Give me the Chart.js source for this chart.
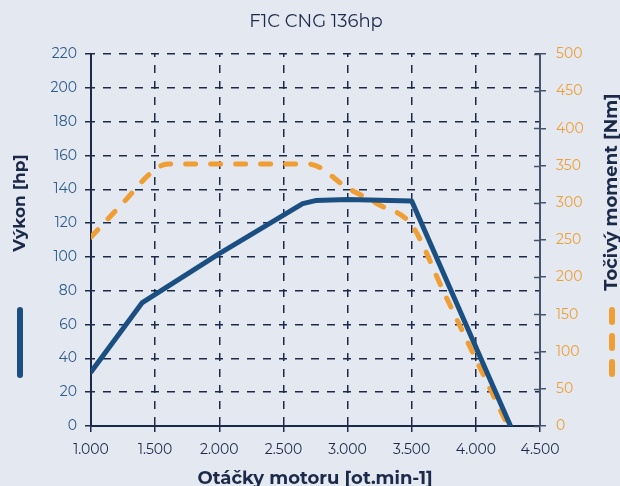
<!DOCTYPE html>
<html>
<head>
<meta charset="UTF-8">
<title>F1C CNG 136hp</title>
<script src="https://cdn.jsdelivr.net/npm/chart.js@4/dist/chart.umd.min.js"></script>
<style>
  html, body { margin: 0; padding: 0; background: #e4e8f0; }
  #wrap { width: 620px; height: 486px; position: relative; }
</style>
</head>
<body>
<div id="wrap"><canvas id="chart"></canvas></div>
<script>
// engine speed [rpm] and values
const powerRpm = [1000, 1400, 2000, 2650, 2750, 3000, 3500, 4270];
const powerHp = [32, 73, 102, 131.5, 133.3, 134, 133, 0];
const torqueRpm = [1000, 1250, 1500, 1600, 2700, 3000, 3250, 3500, 3750, 4000, 4250];
const torqueNm = [254, 300, 345, 352, 352, 320, 297, 270, 180, 90, 0];
const xTicks = [1000, 1500, 2000, 2500, 3000, 3500, 4000, 4500];
const hpTicks = [0, 20, 40, 60, 80, 100, 120, 140, 160, 180, 200, 220];
const nmTicks = [0, 50, 100, 150, 200, 250, 300, 350, 400, 450, 500];

const NAVY = '#1c2a4a';
const BLUE = '#1b4f82';
const ORANGE = '#ef9e35';
const FONT = 'Montserrat, "Open Sans", sans-serif';

const fmt = (v) => String(v).replace(/\B(?=(\d{3})+(?!\d))/g, '.');

const decor = {
  id: 'decor',
  afterDraw(chart) {
    const ctx = chart.ctx;
    const ca = chart.chartArea;
    ctx.save();
    // title
    ctx.fillStyle = NAVY;
    ctx.font = '18px ' + FONT;
    ctx.textAlign = 'center';
    ctx.textBaseline = 'middle';
    ctx.fillText('F1C CNG 136hp', 316, 22);

    // inward ticks on right axis
    const y2 = chart.scales.y2;
    ctx.strokeStyle = '#44546f';
    ctx.lineWidth = 1.5;
    y2.ticks.forEach((t) => {
      const y = Math.round(y2.getPixelForValue(t.value)) + 0.5;
      ctx.beginPath();
      ctx.moveTo(ca.right - 6, y);
      ctx.lineTo(ca.right, y);
      ctx.stroke();
    });

    // left axis title + swatch
    ctx.font = 'bold 17px ' + FONT;
    ctx.fillStyle = NAVY;
    ctx.save();
    ctx.translate(20, 203);
    ctx.rotate(-Math.PI / 2);
    ctx.fillText('Výkon [hp]', 0, 0);
    ctx.restore();
    ctx.strokeStyle = BLUE;
    ctx.lineWidth = 6;
    ctx.lineCap = 'round';
    ctx.beginPath();
    ctx.moveTo(20, 310);
    ctx.lineTo(20, 375);
    ctx.stroke();

    // right axis title + swatch
    ctx.font = 'bold 18px ' + FONT;
    ctx.save();
    ctx.translate(612, 192);
    ctx.rotate(-Math.PI / 2);
    ctx.fillText('Točivý moment [Nm]', 0, 0);
    ctx.restore();
    ctx.strokeStyle = ORANGE;
    ctx.setLineDash([12, 14]);
    ctx.beginPath();
    ctx.moveTo(612, 310);
    ctx.lineTo(612, 376);
    ctx.stroke();
    ctx.setLineDash([]);

    // x axis title
    ctx.fillText('Otáčky motoru [ot.min-1]', 315, 479);
    ctx.restore();
  }
};

new Chart(document.getElementById('chart'), {
  type: 'line',
  data: {
    datasets: [
      {
        label: 'Výkon [hp]',
        data: powerRpm.map((x, i) => ({ x, y: powerHp[i] })),
        yAxisID: 'y',
        borderColor: BLUE,
        borderWidth: 5,
        pointRadius: 0,
        borderCapStyle: 'round',
        borderJoinStyle: 'round'
      },
      {
        label: 'Točivý moment [Nm]',
        data: torqueRpm.map((x, i) => ({ x, y: torqueNm[i] })),
        yAxisID: 'y2',
        borderColor: ORANGE,
        borderWidth: 5,
        borderDash: [10, 15],
        borderCapStyle: 'round',
        pointRadius: 0,
        cubicInterpolationMode: 'monotone'
      }
    ]
  },
  options: {
    responsive: true,
    maintainAspectRatio: false,
    animation: false,
    layout: { padding: { top: 54 } },
    plugins: { legend: { display: false }, tooltip: { enabled: false } },
    scales: {
      x: {
        type: 'linear',
        min: 1000,
        max: 4500,
        afterBuildTicks: (s) => { s.ticks = xTicks.map((v) => ({ value: v })); },
        afterFit: (s) => { s.height = 60; },
        ticks: { color: NAVY, font: { family: FONT, size: 14 }, padding: 9, callback: fmt, maxRotation: 0 },
        grid: { color: NAVY, lineWidth: 1.5, tickLength: 6, tickColor: NAVY, tickBorderDash: [] },
        border: { display: true, color: NAVY, width: 2, dash: [8, 8], dashOffset: 5 }
      },
      y: {
        position: 'left',
        min: 0,
        max: 220,
        afterBuildTicks: (s) => { s.ticks = hpTicks.map((v) => ({ value: v })); },
        afterFit: (s) => { s.width = 91; },
        ticks: { color: '#2d5a8c', font: { family: FONT, size: 14 }, padding: 8 },
        grid: { color: NAVY, lineWidth: 1.5, tickLength: 6, tickColor: NAVY, tickBorderDash: [] },
        border: { display: true, color: NAVY, width: 2, dash: [8, 8], dashOffset: 5 }
      },
      y2: {
        position: 'right',
        min: 0,
        max: 500,
        afterBuildTicks: (s) => { s.ticks = nmTicks.map((v) => ({ value: v })); },
        afterFit: (s) => { s.width = 80; },
        ticks: { color: ORANGE, font: { family: FONT, size: 14 }, padding: 10 },
        grid: { drawOnChartArea: false, color: '#44546f', lineWidth: 1.5, tickLength: 6 },
        border: { display: true, color: '#44546f', width: 2 }
      }
    }
  },
  plugins: [decor]
});
</script>
</body>
</html>
